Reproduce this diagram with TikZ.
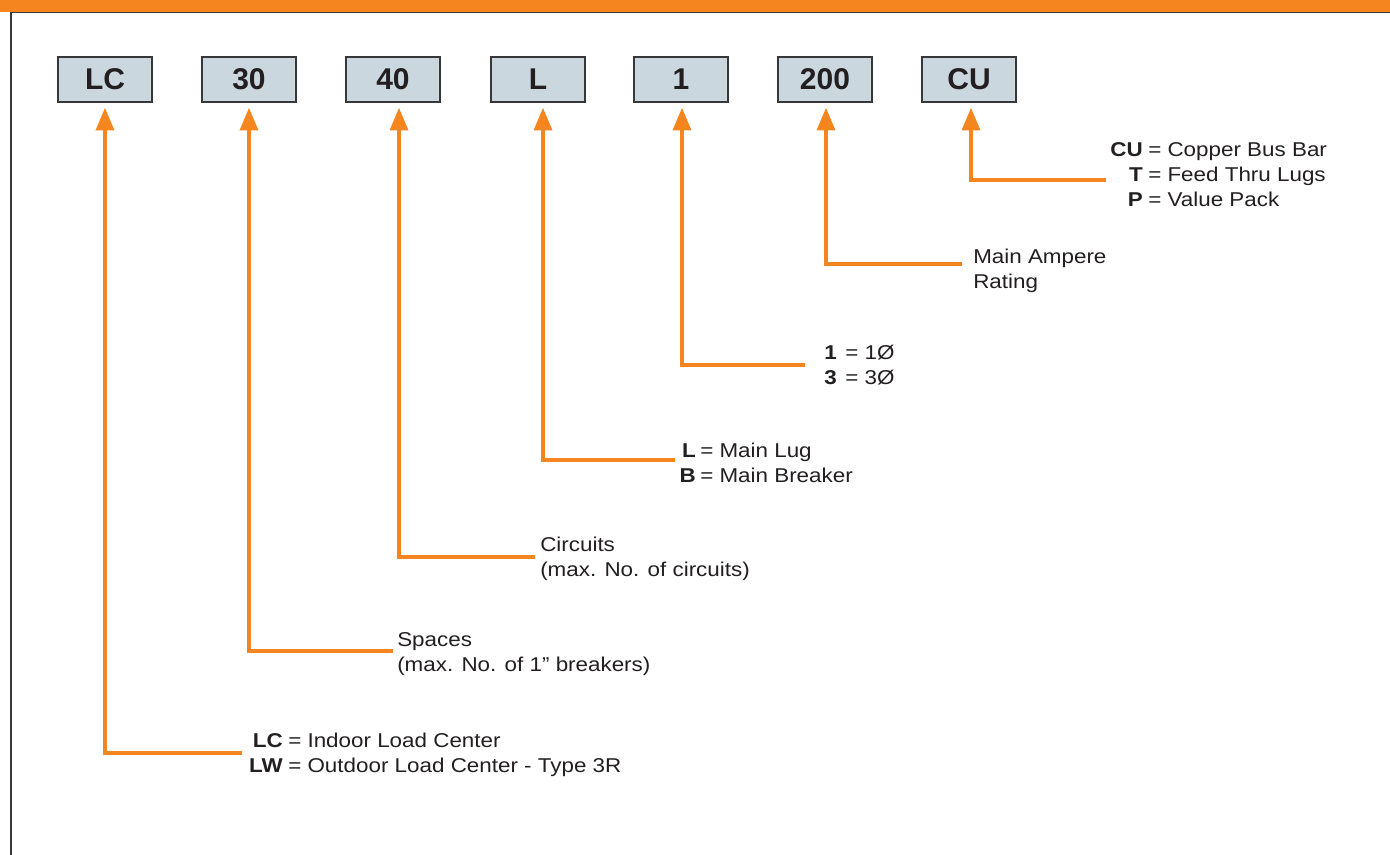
\documentclass[tikz,border=0pt]{standalone}
\usepackage{fontspec}
\setmainfont{Liberation Sans}[FakeStretch=1.12]
\newfontfamily\boxfont{Liberation Sans}
\usetikzlibrary{arrows.meta}
\definecolor{eorange}{RGB}{245,134,31}
\definecolor{boxfill}{RGB}{202,215,223}
\definecolor{ink}{RGB}{35,31,32}
\definecolor{framegray}{RGB}{55,55,55}
\newcommand\rows[2]{\begin{tabular}[t]{@{}#1@{}}#2\end{tabular}}
\begin{document}
\begin{tikzpicture}[x=0.75pt,y=-0.75pt,
  codebox/.style={draw=framegray,line width=1.1pt,fill=boxfill,minimum width=70.5pt,minimum height=33.75pt,inner sep=0pt,font=\boxfont\bfseries\fontsize{22.5}{24}\selectfont,text=ink},
  conn/.style={draw=eorange,line width=2.6pt,-{Triangle[length=17pt,width=13.5pt]},shorten >=3.75pt},
  lbl/.style={inner sep=0pt,text=ink,font=\fontsize{15}{18.75}\selectfont}]
\useasboundingbox (0,0) rectangle (1390,855);
\fill[white] (0,0) rectangle (1390,855);
% header and frame
\fill[eorange] (0,0) rectangle (1390,12);
\draw[framegray,line width=1.2pt] (11,12.5) -- (1390,12.5);
\draw[framegray,line width=1.5pt] (11,12) -- (11,855);
% code boxes
\node[codebox] (bLC)  at (105,79.5) {LC};
\node[codebox] (b30)  at (249,79.5) {30};
\node[codebox] (b40)  at (393,79.5) {40};
\node[codebox] (bL)   at (538,79.5) {L};
\node[codebox] (b1)   at (681,79.5) {1};
\node[codebox] (b200) at (825,79.5) {200};
\node[codebox] (bCU)  at (969,79.5) {CU};
% connector free ends
\coordinate (eLC)  at (242,753);
\coordinate (e30)  at (393,651);
\coordinate (e40)  at (535,557);
\coordinate (eL)   at (675,460);
\coordinate (e1)   at (805,365);
\coordinate (e200) at (962,264);
\coordinate (eCU)  at (1106,180);
% connectors
\draw[conn] (eLC)  -| (bLC.south);
\draw[conn] (e30)  -| (b30.south);
\draw[conn] (e40)  -| ([xshift=4.5pt]b40.south);
\draw[conn] (eL)   -| ([xshift=3.75pt]bL.south);
\draw[conn] (e1)   -| ([xshift=0.75pt]b1.south);
\draw[conn] (e200) -| ([xshift=0.75pt]b200.south);
\draw[conn] (eCU)  -| ([xshift=1.5pt]bCU.south);
% labels
\node[lbl,anchor=base east] (kLC) at (283,747) {\rows{r}{\bfseries LC\\\bfseries LW}};
\node[lbl,anchor=base west] (vLC) at (288,747) {\rows{l}{= Indoor Load Center\\= Outdoor Load Center - Type 3R}};
\node[lbl,anchor=base west] (t30) at (397,647) {\rows{l}{Spaces\\(max. No. of 1” breakers)}};
\node[lbl,anchor=base west] (t40) at (540,552) {\rows{l}{Circuits\\(max. No. of circuits)}};
\node[lbl,anchor=base east] (kL) at (696,458) {\rows{r}{\bfseries L\\\bfseries B}};
\node[lbl,anchor=base west] (vL) at (700,458) {\rows{l}{= Main Lug\\= Main Breaker}};
\node[lbl,anchor=base east] (k1) at (837,360) {\rows{r}{\bfseries 1\\\bfseries 3}};
\node[lbl,anchor=base west] (v1) at (845,360) {\rows{l}{= 1Ø\\= 3Ø}};
\node[lbl,anchor=base west] (t200) at (973,264) {\rows{l}{Main Ampere\\Rating}};
\node[lbl,anchor=base east] (kCU) at (1143,157) {\rows{r}{\bfseries CU\\\bfseries T\\\bfseries P}};
\node[lbl,anchor=base west] (vCU) at (1148,157) {\rows{l}{= Copper Bus Bar\\= Feed Thru Lugs\\= Value Pack}};
\end{tikzpicture}
\end{document}
